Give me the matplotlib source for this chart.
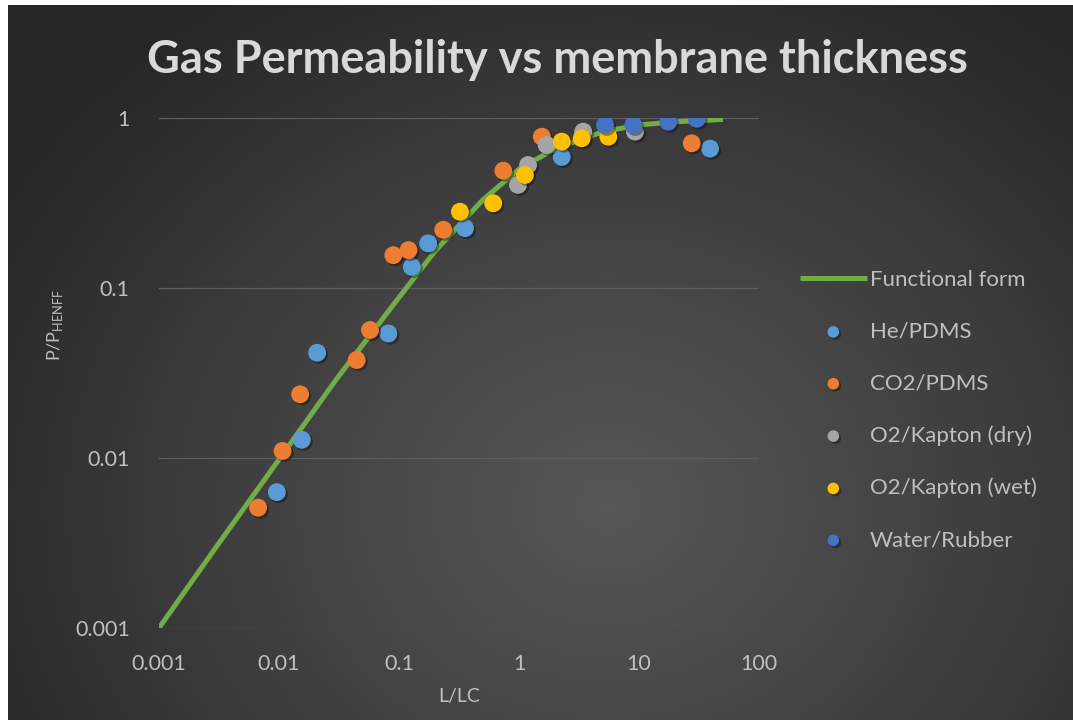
import numpy as np
import matplotlib
matplotlib.use("Agg")
import matplotlib.pyplot as plt
from matplotlib.colors import LinearSegmentedColormap
import matplotlib.patheffects as pe

plt.rcParams['font.family'] = ['Lato', 'DejaVu Sans']
plt.rcParams['mathtext.fontset'] = 'custom'
plt.rcParams['mathtext.rm'] = 'Lato'

# Functional form
fit_x = [0.001, 0.003, 0.01, 0.03, 0.1, 0.2, 0.5, 1, 2, 5, 10, 20, 50]
fit_y = [0.001, 0.003, 0.0098, 0.029, 0.088, 0.165, 0.33, 0.5, 0.66, 0.83, 0.91, 0.95, 0.98]

# Measured series
he_x = [0.0096, 0.0155, 0.0208, 0.0815, 0.128, 0.175, 0.355, 2.27, 39.1]
he_y = [0.0063, 0.0128, 0.0416, 0.054, 0.133, 0.183, 0.225, 0.59, 0.66]

co2_x = [0.0067, 0.0107, 0.015, 0.0444, 0.0573, 0.0897, 0.12, 0.234, 0.74, 1.55, 27.5]
co2_y = [0.0051, 0.011, 0.0237, 0.0377, 0.0566, 0.156, 0.167, 0.22, 0.49, 0.776, 0.71]

dry_x = [0.98, 1.19, 1.70, 3.43, 9.26]
dry_y = [0.404, 0.529, 0.694, 0.831, 0.831]

wet_x = [0.322, 0.61, 1.12, 2.27, 3.33, 5.55]
wet_y = [0.281, 0.315, 0.462, 0.726, 0.76, 0.776]

water_x = [5.21, 8.97, 17.5, 30.3]
water_y = [0.91, 0.91, 0.951, 0.99]

W, H = 1073, 725
fig = plt.figure(figsize=(W / 100, H / 100), dpi=100, facecolor='white')

# dark radial background
bg = fig.add_axes([8 / W, 5 / H, 1 - 8 / W, (720 - 5) / H])
bg.set_axis_off()
yy, xx = np.mgrid[0:715, 0:1065]
r = np.sqrt(((xx - 600) / 720) ** 2 + ((yy - 500) / 620) ** 2)
r = np.clip(r, 0, 1)
cmap = LinearSegmentedColormap.from_list('bg', ['#575757', '#404040', '#262626'])
bg.imshow(r, cmap=cmap, aspect='auto', vmin=0, vmax=1,
          extent=[0, 1, 0, 1], origin='upper')

ax = fig.add_axes([159 / W, 1 - 628 / H, 600 / W, 510 / H])
ax.patch.set_alpha(0)
ax.set_xscale('log')
ax.set_yscale('log')
ax.set_xlim(0.001, 100)
ax.set_ylim(0.001, 1)
for s in ax.spines.values():
    s.set_visible(False)
ax.yaxis.grid(True, color='#5e5e5e', linewidth=0.9)
ax.set_axisbelow(True)
ax.minorticks_off()
ax.tick_params(length=0, colors='#bfbfbf', labelsize=15.5)
ax.tick_params(axis='x', pad=19)
ax.tick_params(axis='y', pad=21)
ax.set_xticks([0.001, 0.01, 0.1, 1, 10, 100])
ax.set_xticklabels(['0.001', '0.01', '0.1', '1', '10', '100'])
ax.set_yticks([0.001, 0.01, 0.1, 1])
ax.set_yticklabels(['0.001', '0.01', '0.1', '1'])

ax.plot(fit_x, fit_y, color='#70AD47', linewidth=3.6, label='Functional form',
        solid_capstyle='butt', zorder=2)

shadow = [pe.SimplePatchShadow(offset=(1.5, -1.5), shadow_rgbFace='black', alpha=0.35), pe.Normal()]
series = [
    (he_x, he_y, '#5B9BD5', 'He/PDMS'),
    (co2_x, co2_y, '#ED7D31', 'CO2/PDMS'),
    (dry_x, dry_y, '#A5A5A5', 'O2/Kapton (dry)'),
    (wet_x, wet_y, '#FFC000', 'O2/Kapton (wet)'),
    (water_x, water_y, '#4472C4', 'Water/Rubber'),
]
for i, (sx, sy, c, lab) in enumerate(series):
    sc = ax.scatter(sx, sy, s=165, color=c, edgecolors='none', label=lab, zorder=3 + i)
    sc.set_path_effects(shadow)

ax.set_xlabel('L/LC', color='#bfbfbf', fontsize=14, labelpad=10)
ax.set_ylabel('P/P$_{\\mathrm{HENFF}}$', color='#bfbfbf', fontsize=13)
ax.yaxis.set_label_coords(-0.157, 0.594)

fig.text(557 / W, 1 - 60 / H, 'Gas Permeability vs membrane thickness',
         ha='center', va='center', color='#d9d9d9', fontsize=32.5, fontweight='bold')

leg = fig.legend(loc='upper left', bbox_to_anchor=(780 / W, 1 - 250 / H),
                 frameon=False, fontsize=16, labelcolor='#bfbfbf',
                 handlelength=3.0, handletextpad=0.15, labelspacing=1.43,
                 markerscale=0.65)

fig.savefig('out.png', dpi=100, facecolor='white')
